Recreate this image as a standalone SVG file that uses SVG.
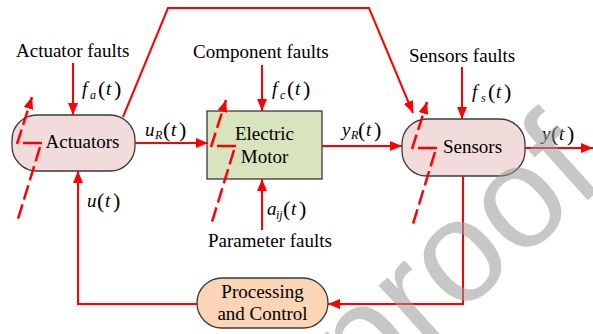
<svg xmlns="http://www.w3.org/2000/svg" xmlns:xlink="http://www.w3.org/1999/xlink" width="593" height="334" viewBox="0 0 593 334">
<style>
.t{font-family:'Liberation Serif','DejaVu Serif',serif;font-size:19px;fill:#000}
.mid{text-anchor:middle}
.i{font-style:italic}
.sub{font-style:italic;font-size:12px}
.p{font-size:22px}
.box{stroke:#3a3a3a;stroke-width:1.3}
.ln{fill:none;stroke:#ff0000;stroke-width:2}
.arr{marker-end:url(#ah)}
.dash{fill:none;stroke:#ff0000;stroke-width:2.5;stroke-dasharray:15 5}
.solid{fill:none;stroke:#ff0000;stroke-width:2.5}
.wm{font-family:'Liberation Sans',sans-serif;font-size:145px;fill:#9a9a9a;opacity:0.55}
</style>
<defs>
<marker id="ah" viewBox="0 0 12 10" refX="12" refY="5" markerWidth="12" markerHeight="10" markerUnits="userSpaceOnUse" orient="auto">
<path d="M0,0 L12,5 L0,10 z" fill="#ff0000"/>
</marker>
<g id="fault">
<path class="dash arr" d="M-15,47 L0,0"/>
<path class="solid" d="M-9,46 H10"/>
<path class="dash" d="M8,50 L-14,122"/>
</g>
</defs>
<rect width="593" height="334" fill="#ffffff"/>

<g id="actuators">
<rect class="box" x="12" y="115" width="123" height="56" rx="25" ry="25" fill="#f2dcdb"/>
<text class="t mid" x="82.5" y="148">Actuators</text>
</g>
<g id="motor">
<rect class="box" x="207" y="111" width="115" height="68" fill="#d7e4bd"/>
<text class="t mid" x="264.5" y="140">Electric</text>
<text class="t mid" x="264.5" y="163">Motor</text>
</g>
<g id="sensors">
<rect class="box" x="402" y="119" width="123" height="57" rx="25" ry="25" fill="#f2dcdb"/>
<text class="t mid" x="472.5" y="153">Sensors</text>
</g>
<g id="processing">
<rect class="box" x="197" y="278" width="131" height="50" rx="25" ry="25" fill="#fbd5b5"/>
<text class="t mid" x="262.5" y="298">Processing</text>
<text class="t mid" x="262.5" y="320">and Control</text>
</g>

<g id="fault-labels">
<text class="t" x="16" y="57">Actuator faults</text>
<text class="t" x="193" y="58">Component faults</text>
<text class="t" x="409" y="62">Sensors faults</text>
<text class="t" x="208" y="247">Parameter faults</text>
</g>

<g id="connectors">
<path class="ln arr" d="M73,63 V115"/>
<path class="ln arr" d="M262,65 V111"/>
<path class="ln arr" d="M462,67 V119"/>
<path class="ln arr" d="M262,230 V179"/>
<path class="ln arr" d="M135,143 H208"/>
<path class="ln arr" d="M322,146 H402"/>
<path class="ln arr" d="M525,148 H593"/>
<path class="ln arr" d="M123,117 L168,8 H369 L413,113"/>
<path class="ln arr" d="M463,176 V304 H328"/>
<path class="ln arr" d="M197,304 H78 V171"/>
<use xlink:href="#fault" x="32" y="97"/>
<use xlink:href="#fault" x="226" y="100"/>
<use xlink:href="#fault" x="427" y="102"/>
</g>

<g id="signal-labels">
<text class="t"><tspan class="i" x="82" y="95">f</tspan><tspan class="sub" x="90" y="99">a</tspan><tspan class="p" x="98" y="96">(</tspan><tspan class="i" x="106" y="95">t</tspan><tspan class="p" x="114" y="96">)</tspan></text>
<text class="t"><tspan class="i" x="145" y="136">u</tspan><tspan class="sub" x="155" y="139">R</tspan><tspan class="p" x="163" y="137">(</tspan><tspan class="i" x="171" y="136">t</tspan><tspan class="p" x="179" y="137">)</tspan></text>
<text class="t"><tspan class="i" x="87" y="207">u</tspan><tspan class="p" x="97" y="208">(</tspan><tspan class="i" x="105" y="207">t</tspan><tspan class="p" x="113" y="208">)</tspan></text>
<text class="t"><tspan class="i" x="272" y="95">f</tspan><tspan class="sub" x="280" y="99">c</tspan><tspan class="p" x="287" y="96">(</tspan><tspan class="i" x="295" y="95">t</tspan><tspan class="p" x="303" y="96">)</tspan></text>
<text class="t"><tspan class="i" x="342" y="136">y</tspan><tspan class="sub" x="351" y="139">R</tspan><tspan class="p" x="358" y="137">(</tspan><tspan class="i" x="366" y="136">t</tspan><tspan class="p" x="374" y="137">)</tspan></text>
<text class="t"><tspan class="i" x="267" y="215">a</tspan><tspan class="sub" x="276" y="219">ij</tspan><tspan class="p" x="283" y="216">(</tspan><tspan class="i" x="291" y="215">t</tspan><tspan class="p" x="299" y="216">)</tspan></text>
<text class="t"><tspan class="i" x="472" y="98">f</tspan><tspan class="sub" x="481" y="102">s</tspan><tspan class="p" x="488" y="99">(</tspan><tspan class="i" x="496" y="98">t</tspan><tspan class="p" x="504" y="99">)</tspan></text>
<text class="t"><tspan class="i" x="542" y="140">y</tspan><tspan class="p" x="551" y="141">(</tspan><tspan class="i" x="559" y="140">t</tspan><tspan class="p" x="567" y="141">)</tspan></text>
</g>

<text class="wm" transform="translate(362.5,403) rotate(-42)">proof</text>
</svg>
